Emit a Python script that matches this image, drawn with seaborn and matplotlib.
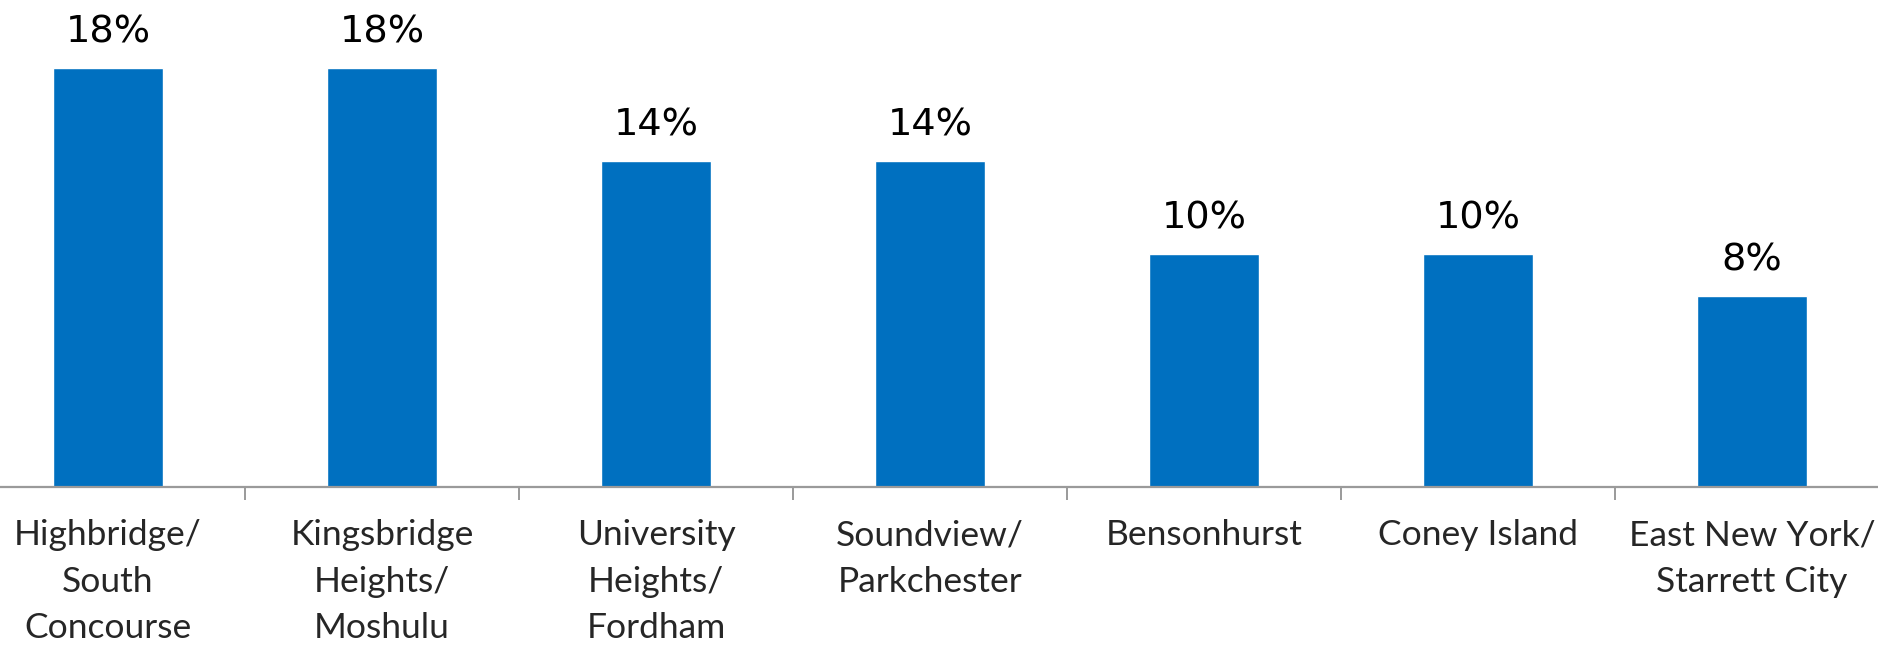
import matplotlib
matplotlib.use("Agg")
import matplotlib.pyplot as plt
import seaborn as sns
import pandas as pd

neighborhoods = [
    "Highbridge/\nSouth\nConcourse",
    "Kingsbridge\nHeights/\nMoshulu",
    "University\nHeights/\nFordham",
    "Soundview/\nParkchester",
    "Bensonhurst",
    "Coney Island",
    "East New York/\nStarrett City",
]
rates = [18.0, 18.0, 14.0, 14.0, 10.0, 10.0, 8.2]
value_labels = ["18%", "18%", "14%", "14%", "10%", "10%", "8%"]

BAR_COLOR = "#0070C0"
AXIS_GRAY = "#9a9a9a"

sns.set_theme(style="white")
plt.rcParams["font.family"] = ["Lato", "DejaVu Sans"]

df = pd.DataFrame({"area": neighborhoods, "rate": rates})

fig = plt.figure(figsize=(18.78, 6.48), dpi=100)
ax = fig.add_axes([-29 / 1878, (648 - 487.3) / 648, 1918 / 1878, 487.3 / 648])

sns.barplot(data=df, x="area", y="rate", color=BAR_COLOR, saturation=1,
            width=0.40, ax=ax)

ax.set_xlim(-0.5, len(neighborhoods) - 0.5)
ax.set_ylim(0, 20.93)

# percentage labels above each bar
for i, (v, lab) in enumerate(zip(rates, value_labels)):
    ax.annotate(lab, xy=(i, v), xytext=(0, 18.5), textcoords="offset points",
                ha="center", va="baseline", fontsize=27.5, color="black",
                family="DejaVu Sans")

for side in ["left", "right", "top"]:
    ax.spines[side].set_visible(False)
ax.spines["bottom"].set_color(AXIS_GRAY)
ax.spines["bottom"].set_linewidth(1.6)

ax.set_yticks([])
ax.set_xlabel("")
ax.set_ylabel("")
ax.set_xticks(range(len(neighborhoods)))
ax.set_xticklabels(neighborhoods, fontsize=25.5, linespacing=1.55,
                   multialignment="center")
ax.tick_params(axis="x", which="major", length=0, pad=23)
# separator ticks between categories
ax.set_xticks([i + 0.5 for i in range(len(neighborhoods) - 1)], minor=True)
ax.tick_params(axis="x", which="minor", length=9, width=1.4, color=AXIS_GRAY,
               direction="out", bottom=True)

fig.savefig("out.png", dpi=100)
